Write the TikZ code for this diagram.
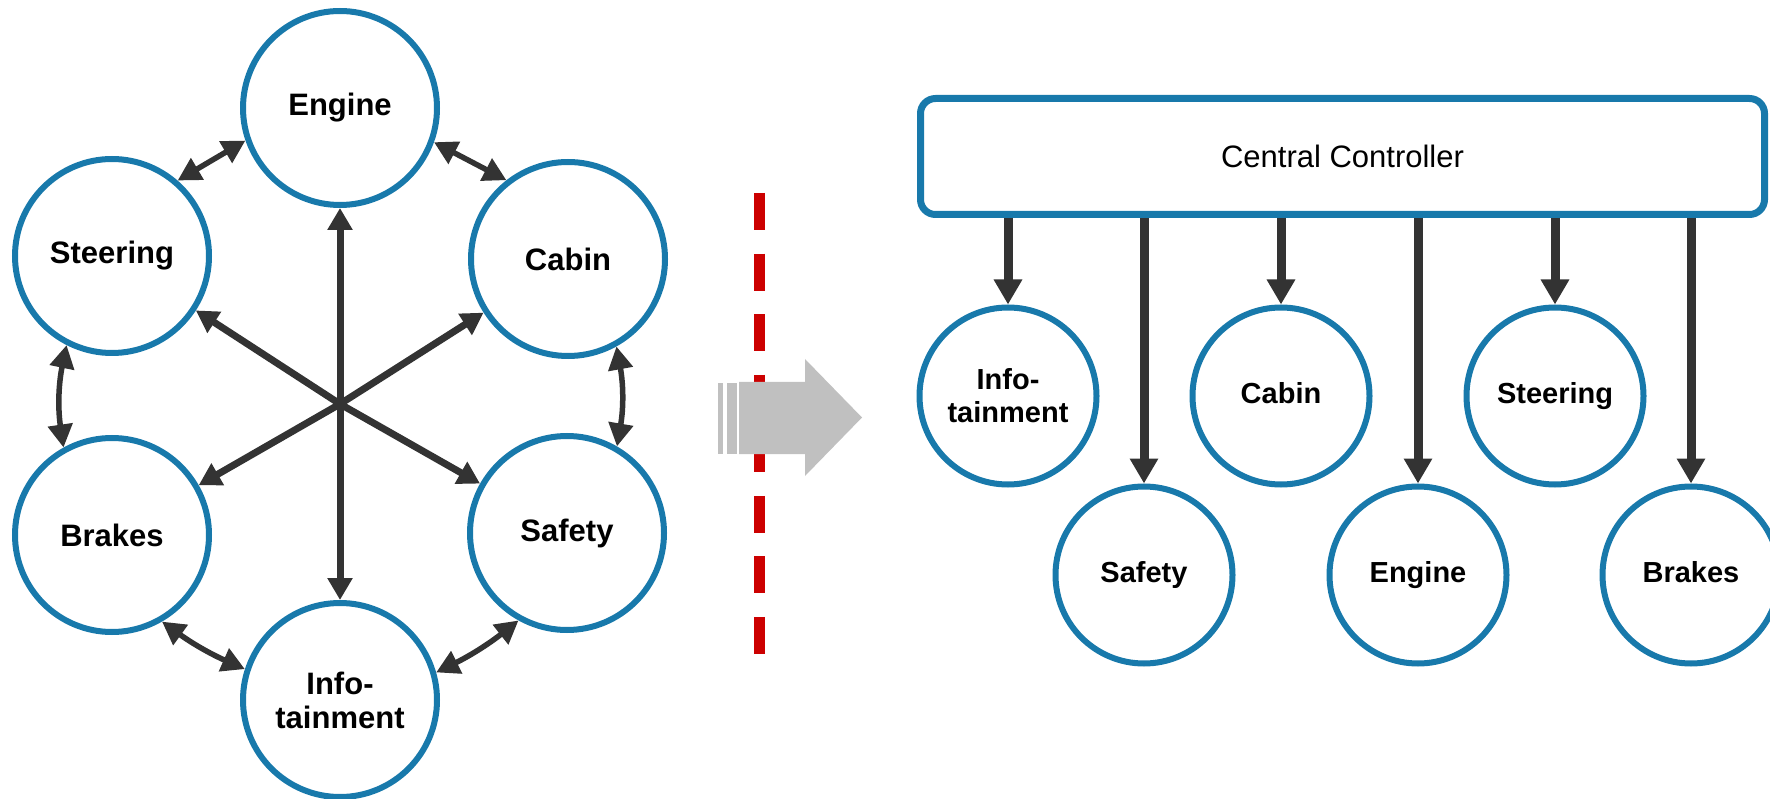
\documentclass[tikz,border=0pt]{standalone}
\usepackage{fontspec}
\setmainfont{Liberation Sans}
\usetikzlibrary{arrows.meta,calc}
\definecolor{cblue}{HTML}{1879AB}
\definecolor{cdark}{HTML}{333333}
\definecolor{cred}{HTML}{CC0000}
\definecolor{cgrey}{HTML}{C0C0C0}
\tikzset{
  lcirc/.style={circle,draw=cblue,line width=6pt,fill=white,minimum size=194pt,inner sep=0pt,align=center,
    font=\bfseries\fontsize{31}{34}\selectfont},
  rcirc/.style={circle,draw=cblue,line width=6pt,fill=white,minimum size=177pt,inner sep=0pt,align=center,
    font=\bfseries\fontsize{29}{33}\selectfont},
  ctrlbox/.style={draw=cblue,line width=7pt,rounded corners=15pt,fill=white,minimum width=844pt,minimum height=116pt,
    font=\fontsize{31}{36}\selectfont},
  stararrow/.style={draw=cdark,line width=7pt,{Triangle[length=22pt,width=24pt]}-{Triangle[length=22pt,width=24pt]}},
  ringarrow/.style={draw=cdark,line width=5.5pt,{Triangle[length=23pt,width=24pt]}-{Triangle[length=23pt,width=24pt]}},
  downarrow/.style={draw=cdark,line width=9pt,-{Triangle[length=25pt,width=27pt]}},
}
\begin{document}
\begin{tikzpicture}[x=1pt,y=-1pt]
\useasboundingbox (0,0) rectangle (1770,799);
% left: distributed network
\node[lcirc] (engine) at (340,108) {Engine};
\node[lcirc] (steer) at (112,256) {Steering};
\node[lcirc] (cabin) at (568,259) {Cabin};
\node[lcirc] (brakes) at (112,535) {Brakes};
\node[lcirc] (safety) at (567,533) {Safety};
\node[lcirc] (info) at (340,700) {Info-\\tainment};
\coordinate (c) at (340,404);
\draw[stararrow] (engine) -- (info);
\draw[stararrow] (steer) -- (c) -- (safety);
\draw[stararrow] (cabin) -- (c) -- (brakes);
\draw[ringarrow] (engine.199) -- (steer.49);
\draw[ringarrow] (engine.340) -- (cabin.128);
\draw[ringarrow] (cabin.299) to[bend left=10] (safety.60);
\draw[ringarrow] (safety.241) to[bend left=6] (info.16);
\draw[ringarrow] (brakes.300) to[bend right=6] (info.162);
\draw[ringarrow] (steer.243) to[bend right=10] (brakes.119);
% divider
\draw[cred,line width=11pt,dash pattern=on 37pt off 23.57pt] (759,193) -- (759,654);
% grey arrow
\fill[cgrey] (718,383) rectangle (723,454);
\fill[cgrey] (727,383) rectangle (737,454);
\fill[cgrey] (739,382) -- (805,382) -- (805,359) -- (862,417.5) -- (805,476) -- (805,454) -- (739,454) -- cycle;
% right: centralized
\node[ctrlbox] (ctrl) at (1342.5,156.5) {Central Controller};
\node[rcirc] (rinfo) at (1008,396) {Info-\\tainment};
\node[rcirc] (rcabin) at (1281,396) {Cabin\vphantom{g}};
\node[rcirc] (rsteer) at (1555,396) {Steering};
\node[rcirc] (rsafety) at (1144,575) {Safety};
\node[rcirc] (rengine) at (1418,575) {Engine};
\node[rcirc] (rbrakes) at (1691,575) {Brakes\vphantom{g}};
\foreach \n in {rinfo,rcabin,rsteer,rsafety,rengine,rbrakes}
  \draw[downarrow] (ctrl.south -| \n) -- (\n.north);
\end{tikzpicture}
\end{document}
